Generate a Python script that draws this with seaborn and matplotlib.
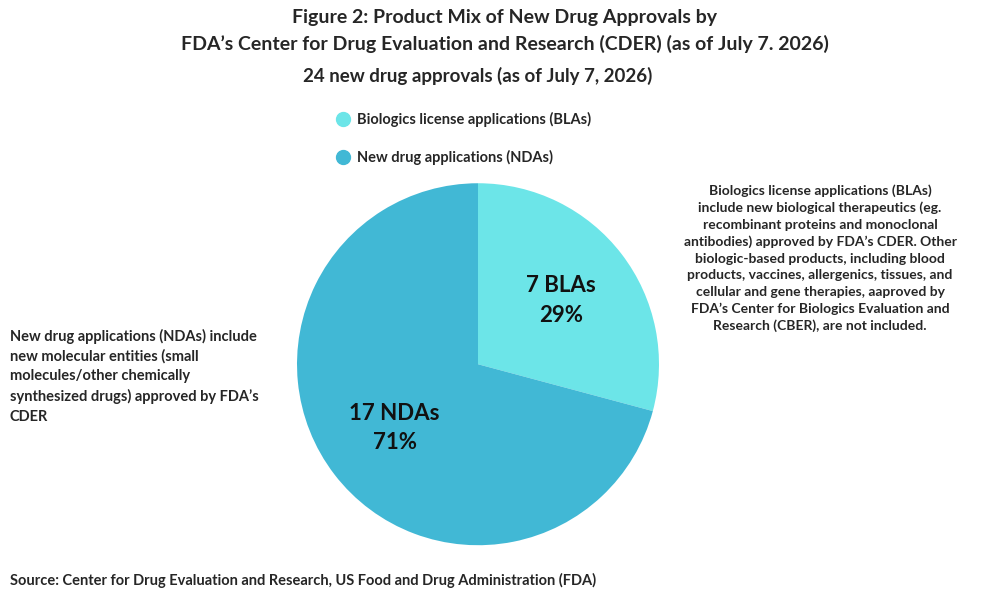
import matplotlib.pyplot as plt
import seaborn as sns
from matplotlib.lines import Line2D

sns.set_theme(style="white")
plt.rcParams["font.family"] = ["Lato", "DejaVu Sans"]
plt.rcParams["font.weight"] = "bold"

categories = ["Biologics license applications (BLAs)", "New drug applications (NDAs)"]
counts = [7, 17]
short = ["BLAs", "NDAs"]
colors = ["#6CE5E8", "#41B8D5"]

fig = plt.figure(figsize=(10, 6), dpi=100)
fig.patch.set_facecolor("white")

ax = fig.add_axes([0.478 - 0.181, 0.393 - 0.3017, 0.362, 0.6033])
total = sum(counts)
wedges, texts = ax.pie(counts, colors=colors, startangle=90, counterclock=False,
                       labels=[f"{c} {s}\n{round(100 * c / total)}%" for c, s in zip(counts, short)],
                       labeldistance=0.58, wedgeprops=dict(linewidth=0),
                       textprops=dict(fontsize=16, fontweight="bold", color="#111111", ha="center", linespacing=1.5))
ax.set_xlim(-1, 1)
ax.set_ylim(-1, 1)
ax.set_aspect("equal")

fig.text(0.505, 0.97, "Figure 2: Product Mix of New Drug Approvals by", ha="center", va="center", fontsize=14, fontweight="bold")
fig.text(0.505, 0.927, "FDA\u2019s Center for Drug Evaluation and Research (CDER) (as of July 7. 2026)", ha="center", va="center", fontsize=14, fontweight="bold")
fig.text(0.478, 0.873, f"{total} new drug approvals (as of July 7, 2026)", ha="center", va="center", fontsize=13.5, fontweight="bold")

for i, (cat, col) in enumerate(zip(categories, colors)):
    y = 1 - (119 + 38 * i) / 600
    fig.add_artist(Line2D([0.343], [y], marker="o", markersize=10, color=col, transform=fig.transFigure))
    fig.text(0.357, y, cat, va="center", fontsize=10.5, fontweight="bold")

fig.text(0.82, 0.693,
         "Biologics license applications (BLAs)\ninclude new biological therapeutics (eg.\n"
         "recombinant proteins and monoclonal\nantibodies) approved by FDA\u2019s CDER. Other\n"
         "biologic-based products, including blood\nproducts, vaccines, allergenics, tissues, and\n"
         "cellular and gene therapies, aaproved by\nFDA\u2019s Center for Biologics Evaluation and\n"
         "Research (CBER), are not included.",
         ha="center", va="top", fontsize=10, fontweight="bold", linespacing=1.45)
fig.text(0.01, 0.373,
         "New drug applications (NDAs) include\nnew molecular entities (small\n"
         "molecules/other chemically\nsynthesized drugs) approved by FDA\u2019s\nCDER",
         ha="left", va="center", fontsize=10.5, fontweight="bold", linespacing=1.5)
fig.text(0.01, 0.032, "Source: Center for Drug Evaluation and Research, US Food and Drug Administration (FDA)",
         ha="left", va="center", fontsize=10.5, fontweight="bold")

fig.savefig("out.png", dpi=100, facecolor="white")
